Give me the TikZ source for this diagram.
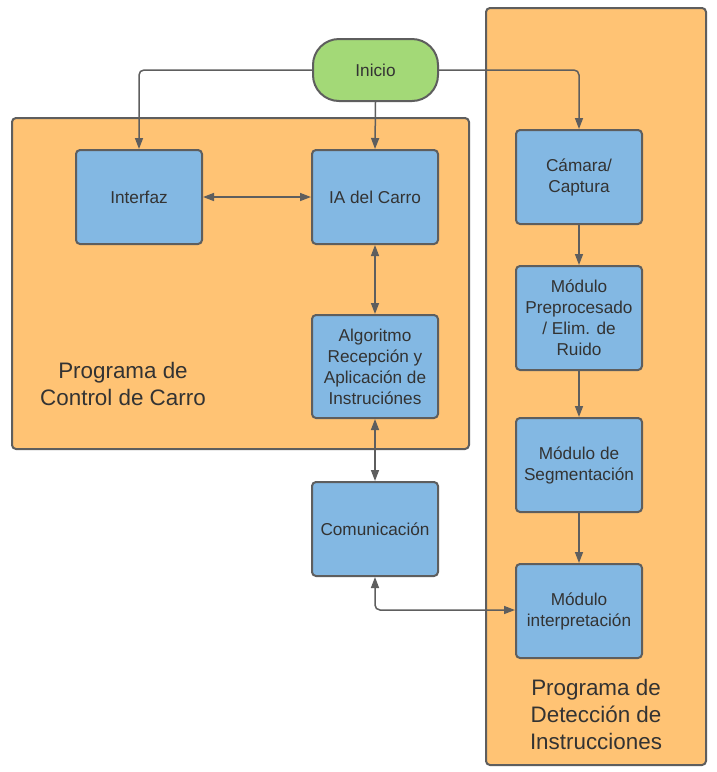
\documentclass[tikz,border=0pt]{standalone}
\usepackage{fontspec}
\setmainfont{Liberation Sans}
\usetikzlibrary{arrows.meta}
\definecolor{orangefill}{HTML}{FFC374}
\definecolor{bluefill}{HTML}{83B8E3}
\definecolor{greenfill}{HTML}{A3D977}
\definecolor{strokegray}{HTML}{5E5E5E}
\definecolor{txtgray}{HTML}{333333}
\begin{document}
\begin{tikzpicture}[x=1pt,y=-1pt,
  container/.style={draw=strokegray,line width=2pt,fill=orangefill,rounded corners=4pt},
  procbox/.style={draw=strokegray,line width=2pt,fill=bluefill,rounded corners=4pt,
    minimum width=126pt,inner sep=0pt,align=center,text=txtgray,
    font=\fontsize{17.2}{21}\selectfont},
  startbox/.style={draw=strokegray,line width=2pt,fill=greenfill,rounded corners=26pt,
    minimum width=125pt,minimum height=62pt,inner sep=0pt,text=txtgray,
    font=\fontsize{17.2}{21}\selectfont},
  titletext/.style={align=center,text=txtgray,font=\fontsize{22.4}{27}\selectfont},
  conn/.style={draw=strokegray,line width=1.5pt,rounded corners=5pt},
  tip/.style={-{Triangle[length=11pt,width=8pt]}},
  tips/.style={{Triangle[length=11pt,width=8pt]}-{Triangle[length=11pt,width=8pt]}}
]
\useasboundingbox (0,0) rectangle (717,772);
\fill[white] (0,0) rectangle (717,772);
% containers
\path[container] (12,118) rectangle (469,449);
\path[container] (486,8) rectangle (706,765);
% nodes
\node[startbox] (inicio) at (375.5,70) {Inicio};
\node[procbox,minimum height=94pt] (interfaz) at (139,197) {Interfaz};
\node[procbox,minimum height=94pt] (ia) at (375,197) {IA del Carro};
\node[procbox,minimum height=103pt] (algo) at (375,366.5) {Algoritmo\\Recepción y\\Aplicación de\\Instruciónes};
\node[procbox,minimum height=94pt] (comu) at (375,529) {Comunicación};
\node[procbox,minimum height=94pt] (camara) at (579,177) {Cámara/\\Captura};
\node[procbox,minimum height=104pt] (prep) at (579,318) {Módulo\\Preprocesado\\/ Elim. de\\Ruido};
\node[procbox,minimum height=94pt] (segm) at (579,465) {Módulo de\\Segmentación};
\node[procbox,minimum height=94pt] (interp) at (579,611) {Módulo\\interpretación};
\node[titletext] (tcontrol) at (123,384) {Programa de\\Control de Carro};
\node[titletext] (tdetec) at (596,714) {Programa de\\Detección de\\Instrucciones};
% connectors
\draw[conn,tip] (inicio.west) -| (interfaz.north);
\draw[conn,tip] (inicio.south) -- (ia.north);
\draw[conn,tip] (inicio.east) -| (camara.north);
\draw[conn,tips] (interfaz.east) -- (ia.west);
\draw[conn,tips] (ia.south) -- (algo.north);
\draw[conn,tips] (algo.south) -- (comu.north);
\coordinate (corner) at (375,610);
\draw[conn,tips] (comu.south) |- (interp.west |- corner);
\draw[conn,tip] (camara.south) -- (prep.north);
\draw[conn,tip] (prep.south) -- (segm.north);
\draw[conn,tip] (segm.south) -- (interp.north);
\end{tikzpicture}
\end{document}
